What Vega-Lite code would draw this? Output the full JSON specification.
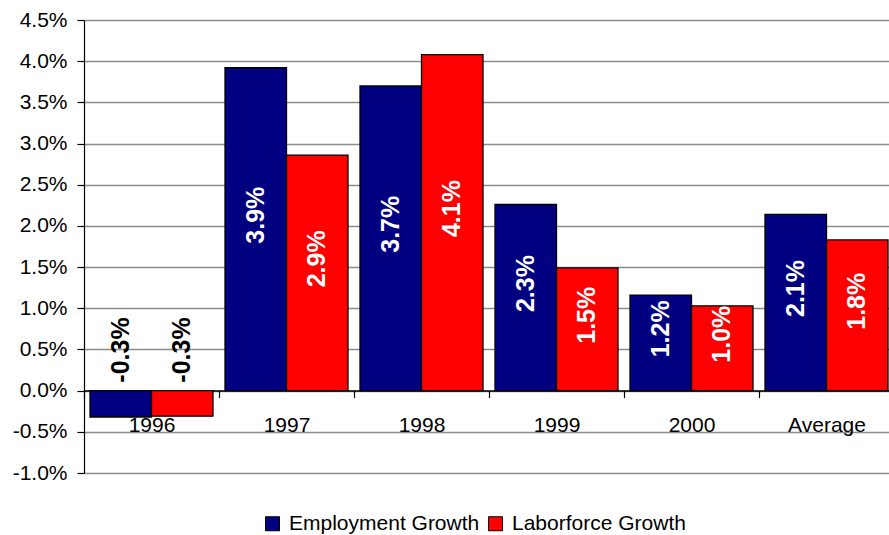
{
  "$schema": "https://vega.github.io/schema/vega-lite/v6.json",
  "width": 810,
  "height": 453,
  "autosize": {"type": "none"},
  "padding": {"left": 84, "top": 20, "right": 0, "bottom": 62},
  "background": "white",
  "config": {
    "view": {"stroke": null},
    "font": "Liberation Sans",
    "locale": {"number": {"decimal": ".", "thousands": ",", "grouping": [3], "currency": ["$", ""], "minus": "-"}},
    "axis": {"labelFont": "Liberation Sans", "labelColor": "black", "domainColor": "black", "tickColor": "black"}
  },
  "data": {
    "values": [
      {"year": "1996", "series": "Employment Growth", "v": -0.0032},
      {"year": "1996", "series": "Laborforce Growth", "v": -0.0031},
      {"year": "1997", "series": "Employment Growth", "v": 0.0392},
      {"year": "1997", "series": "Laborforce Growth", "v": 0.0286},
      {"year": "1998", "series": "Employment Growth", "v": 0.0370},
      {"year": "1998", "series": "Laborforce Growth", "v": 0.0408},
      {"year": "1999", "series": "Employment Growth", "v": 0.0226},
      {"year": "1999", "series": "Laborforce Growth", "v": 0.0149},
      {"year": "2000", "series": "Employment Growth", "v": 0.0116},
      {"year": "2000", "series": "Laborforce Growth", "v": 0.0103},
      {"year": "Average", "series": "Employment Growth", "v": 0.0214},
      {"year": "Average", "series": "Laborforce Growth", "v": 0.0183}
    ]
  },
  "encoding": {
    "x": {
      "field": "year", "type": "nominal", "sort": null, "title": null,
      "scale": {"paddingInner": 0, "paddingOuter": 0},
      "axis": {"labelAngle": 0, "labelFontSize": 21, "tickBand": "extent", "tickSize": 7, "labelPadding": 17, "offset": -82.4, "domainWidth": 1.5, "tickWidth": 1.2, "grid": false, "zindex": 0}
    },
    "xOffset": {
      "field": "series", "type": "nominal", "sort": ["Employment Growth", "Laborforce Growth"],
      "scale": {"paddingInner": 0, "paddingOuter": 0.0976}
    }
  },
  "layer": [
    {
      "mark": {"type": "bar", "stroke": "black", "strokeWidth": 1.3},
      "encoding": {
        "y": {
          "field": "v", "type": "quantitative", "title": null,
          "scale": {"domain": [-0.01, 0.045], "nice": false, "zero": false},
          "axis": {"format": ".1%", "values": [-0.01, -0.005, 0, 0.005, 0.01, 0.015, 0.02, 0.025, 0.03, 0.035, 0.04, 0.045], "labelFontSize": 21, "tickSize": 7, "labelPadding": 10, "grid": true, "gridColor": "#8c8c8c", "gridWidth": 1.5, "domainWidth": 1.2, "tickWidth": 1.2}
        },
        "fill": {
          "field": "series", "type": "nominal",
          "scale": {"domain": ["Employment Growth", "Laborforce Growth"], "range": ["#000080", "#ff0000"]},
          "legend": {"title": null, "orient": "none", "legendX": 178, "legendY": 493, "direction": "horizontal", "symbolType": "square", "symbolSize": 196, "symbolStrokeColor": "black", "symbolStrokeWidth": 1, "symbolOpacity": 1, "labelFontSize": 21, "labelFont": "Liberation Sans", "labelColor": "black", "labelOffset": 6, "labelLimit": 400, "columnPadding": 5}
        }
      }
    },
    {
      "transform": [{"filter": "datum.v < 0"}],
      "mark": {"type": "text", "angle": 270, "align": "left", "baseline": "middle", "dx": 8, "fontSize": 25, "fontWeight": "bold", "color": "black"},
      "encoding": {
        "y": {"datum": 0, "type": "quantitative", "scale": {"domain": [-0.01, 0.045], "nice": false, "zero": false}, "axis": null},
        "text": {"field": "v", "type": "quantitative", "format": ".1%"}
      }
    },
    {
      "transform": [{"filter": "datum.v >= 0"}],
      "mark": {"type": "text", "angle": 270, "align": "center", "baseline": "middle", "dx": 14, "fontSize": 25, "fontWeight": "bold", "color": "white"},
      "encoding": {
        "y": {"field": "v", "type": "quantitative", "scale": {"domain": [-0.02, 0.09], "nice": false, "zero": false}, "axis": null},
        "text": {"field": "v", "type": "quantitative", "format": ".1%"}
      }
    }
  ],
  "resolve": {"scale": {"y": "independent"}}
}
